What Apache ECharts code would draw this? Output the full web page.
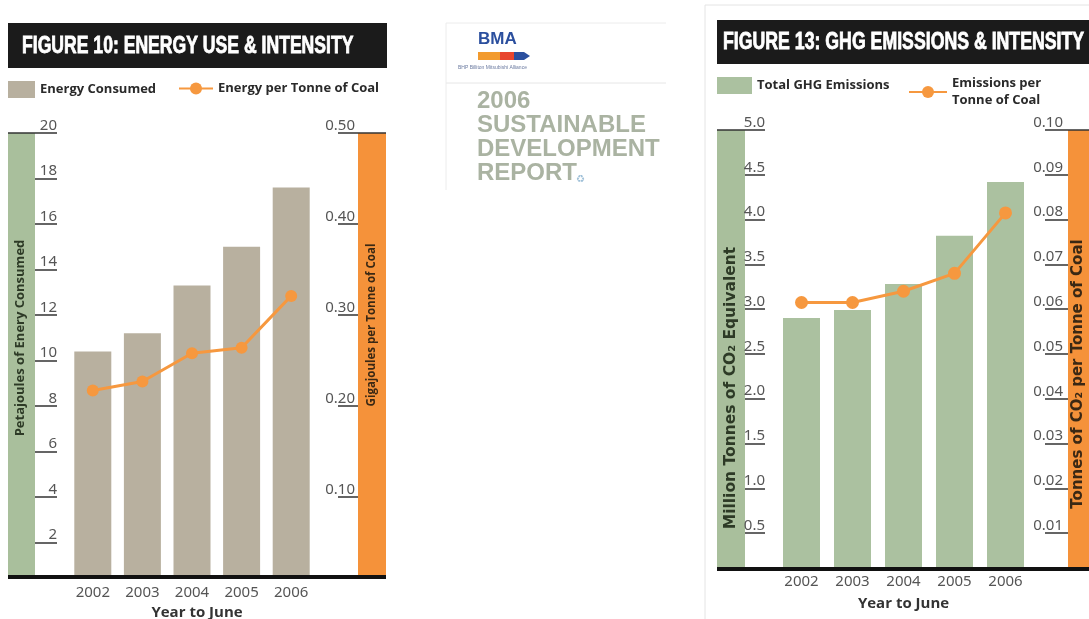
<!DOCTYPE html>
<html>
<head>
<meta charset="utf-8">
<script src="https://cdn.jsdelivr.net/npm/echarts@6/dist/echarts.min.js"></script>
<style>
html,body{margin:0;padding:0;background:#fff;}
#c{width:1089px;height:619px;}
</style>
</head>
<body>
<div id="c"></div>
<script>
// ---- data ----
const years = ['2002', '2003', '2004', '2005', '2006'];
const energyConsumed = [10.4, 11.2, 13.3, 15.0, 17.6];          // Petajoules
const energyPerTonne = [0.217, 0.227, 0.258, 0.264, 0.321];     // GJ per tonne of coal
const ghgEmissions = [2.9, 2.99, 3.28, 3.82, 4.42];            // Mt CO2-e
const ghgPerTonne = [0.0615, 0.0615, 0.064, 0.068, 0.0815];    // t CO2 per tonne of coal
const energyTicks = [2, 4, 6, 8, 10, 12, 14, 16, 18, 20];
const energyIntensityTicks = [0.1, 0.2, 0.3, 0.4, 0.5];
const ghgTicks = [0.5, 1.0, 1.5, 2.0, 2.5, 3.0, 3.5, 4.0, 4.5, 5.0];
const ghgIntensityTicks = [0.01, 0.02, 0.03, 0.04, 0.05, 0.06, 0.07, 0.08, 0.09, 0.10];

const chart = echarts.init(document.getElementById('c'), null, {renderer: 'canvas'});

const GREEN = '#a9bf9c', ORANGE = '#f5923a', GREY_BAR = '#b8b09f', GREEN_BAR = '#abc1a0', LINE = '#f6983f';
const tickFont = {color: '#555', fontFamily: 'Noto Sans', fontSize: 15};
const legendText = {color: '#2a2a2a', fontFamily: 'Open Sans', fontWeight: 'bold', fontSize: 13};

function yAx(o) {
  return Object.assign({
    type: 'value', z: 10,
    axisLine: {show: false},
    splitLine: {show: false},
    nameLocation: 'middle', nameRotate: 90
  }, o);
}

const option = {
  animation: false,
  grid: [
    {left: 68, top: 133, width: 248, height: 442, outerBoundsMode: 'none', containLabel: false},
    {left: 776, top: 130, width: 255, height: 438, outerBoundsMode: 'none', containLabel: false}
  ],
  xAxis: [
    {type: 'category', gridIndex: 0, data: years, z: 10,
     axisLine: {show: false}, axisTick: {show: false},
     axisLabel: Object.assign({margin: 10}, tickFont),
     name: 'Year to June', nameLocation: 'middle', nameGap: 28,
     nameTextStyle: {color: '#333', fontFamily: 'Open Sans', fontWeight: 'bold', fontSize: 15, padding: [0, 0, 0, 10]}},
    {type: 'category', gridIndex: 1, data: years, z: 10,
     axisLine: {show: false}, axisTick: {show: false},
     axisLabel: Object.assign({margin: 6}, tickFont),
     name: 'Year to June', nameLocation: 'middle', nameGap: 28,
     nameTextStyle: {color: '#333', fontFamily: 'Open Sans', fontWeight: 'bold', fontSize: 15}}
  ],
  yAxis: [
    yAx({gridIndex: 0, position: 'left', offset: 33, min: 0.57, max: 20,
      axisTick: {show: true, inside: true, length: 22, customValues: energyTicks, lineStyle: {color: '#333', width: 1.5}},
      axisLabel: Object.assign({inside: true, margin: 22, align: 'right', verticalAlign: 'bottom', customValues: energyTicks,
        formatter: v => String(Math.round(v))}, tickFont),
      name: 'Petajoules of Enery Consumed', nameGap: 8,
      nameTextStyle: {color: '#2d3a26', fontFamily: 'Open Sans', fontWeight: 'bold', fontSize: 13, padding: [0, 0, 0, 32]}}),
    yAx({gridIndex: 0, position: 'right', offset: 42, min: 0.0143, max: 0.5,
      axisTick: {show: true, inside: true, length: 20, customValues: energyIntensityTicks, lineStyle: {color: '#333', width: 1.5}},
      axisLabel: Object.assign({inside: true, margin: 3, align: 'right', verticalAlign: 'bottom', customValues: energyIntensityTicks,
        formatter: v => v.toFixed(2)}, tickFont),
      name: 'Gigajoules per Tonne of Coal', nameGap: 8,
      nameTextStyle: {color: '#3a2814', fontFamily: 'Open Sans', fontWeight: 'bold', fontSize: 11.5, padding: [0, 0, 0, 58]}}),
    yAx({gridIndex: 1, position: 'left', offset: 31, min: 0.11, max: 5,
      axisTick: {show: true, inside: true, length: 20, customValues: ghgTicks, lineStyle: {color: '#333', width: 1.5}},
      axisLabel: Object.assign({inside: true, margin: 20, align: 'right', verticalAlign: 'bottom', customValues: ghgTicks,
        formatter: v => v.toFixed(1)}, tickFont),
      name: 'Million Tonnes of CO\u2082 Equivalent', nameGap: 6,
      nameTextStyle: {color: '#2d3a26', fontFamily: 'DejaVu Sans', fontWeight: 'bold', fontSize: 15.5, padding: [0, 78, 0, 0]}}),
    yAx({gridIndex: 1, position: 'right', offset: 37, min: 0.00223, max: 0.1,
      axisTick: {show: true, inside: true, length: 23, customValues: ghgIntensityTicks, lineStyle: {color: '#333', width: 1.5}},
      axisLabel: Object.assign({inside: true, margin: 5, align: 'right', verticalAlign: 'bottom', customValues: ghgIntensityTicks,
        formatter: v => v.toFixed(2)}, tickFont),
      name: 'Tonnes of CO\u2082 per Tonne of Coal', nameGap: 3,
      nameTextStyle: {color: '#3a2814', fontFamily: 'DejaVu Sans', fontWeight: 'bold', fontSize: 15, padding: [0, 50, 0, 0]}})
  ],
  legend: [
    {data: ['Energy Consumed'], left: 8, top: 81, padding: 0, icon: 'rect', itemWidth: 27, itemHeight: 17, textStyle: legendText, selectedMode: false},
    {data: ['Energy per Tonne of Coal'], left: 178, top: 82, padding: 0, itemWidth: 34, itemHeight: 15, textStyle: legendText, selectedMode: false},
    {data: ['Total GHG Emissions'], left: 717, top: 77, padding: 0, icon: 'rect', itemWidth: 35, itemHeight: 17, textStyle: legendText, selectedMode: false},
    {data: ['Emissions per Tonne of Coal'], left: 908, top: 75, padding: 0, itemWidth: 38, itemHeight: 15, selectedMode: false,
     textStyle: Object.assign({lineHeight: 17}, legendText), formatter: () => 'Emissions per\nTonne of Coal'}
  ],
  series: [
    {name: 'Energy Consumed', type: 'bar', xAxisIndex: 0, yAxisIndex: 0, data: energyConsumed,
     barWidth: 37, itemStyle: {color: GREY_BAR}},
    {name: 'Energy per Tonne of Coal', type: 'line', xAxisIndex: 0, yAxisIndex: 1, data: energyPerTonne,
     symbol: 'circle', symbolSize: 12, lineStyle: {color: LINE, width: 3}, itemStyle: {color: LINE}, z: 5},
    {name: 'Total GHG Emissions', type: 'bar', xAxisIndex: 1, yAxisIndex: 2, data: ghgEmissions,
     barWidth: 37, itemStyle: {color: GREEN_BAR}},
    {name: 'Emissions per Tonne of Coal', type: 'line', xAxisIndex: 1, yAxisIndex: 3, data: ghgPerTonne,
     symbol: 'circle', symbolSize: 13, lineStyle: {color: LINE, width: 3}, itemStyle: {color: LINE}, z: 5}
  ],
  graphic: {elements: [
    // ---- figure 10 ----
    {type: 'rect', shape: {x: 8, y: 23, width: 379, height: 45}, style: {fill: '#1b1b1b'}},
    {type: 'text', x: 22, y: 47, scaleX: 0.765, style: {text: 'FIGURE 10: ENERGY USE & INTENSITY', fill: '#fff',
      stroke: '#fff', lineWidth: 0.8, font: 'bold 23px "Liberation Sans"', align: 'left', verticalAlign: 'middle'}},
    {type: 'rect', shape: {x: 8, y: 133, width: 27, height: 442}, style: {fill: GREEN}},
    {type: 'rect', shape: {x: 358, y: 133, width: 28, height: 442}, style: {fill: ORANGE}},
    {type: 'line', shape: {x1: 8, y1: 133, x2: 35, y2: 133}, style: {stroke: '#333', lineWidth: 1.5}},
    {type: 'line', shape: {x1: 358, y1: 133, x2: 386, y2: 133}, style: {stroke: '#333', lineWidth: 1.5}},
    {type: 'rect', z: 50, shape: {x: 8, y: 575, width: 378, height: 4}, style: {fill: '#111'}},
    // ---- middle report badge ----
    {type: 'line', shape: {x1: 446, y1: 23, x2: 666, y2: 23}, style: {stroke: '#ececec', lineWidth: 1}},
    {type: 'line', shape: {x1: 446, y1: 83, x2: 666, y2: 83}, style: {stroke: '#e6e6e6', lineWidth: 1}},
    {type: 'line', shape: {x1: 446, y1: 23, x2: 446, y2: 190}, style: {stroke: '#ececec', lineWidth: 1}},
    {type: 'text', x: 478, y: 48, style: {text: 'BMA', fill: '#2b4f9e', font: 'bold 17px "Liberation Sans"', align: 'left', verticalAlign: 'bottom'}},
    {type: 'rect', shape: {x: 478, y: 52, width: 22, height: 8}, style: {fill: '#f29a2e'}},
    {type: 'rect', shape: {x: 500, y: 52, width: 14, height: 8}, style: {fill: '#e8452e'}},
    {type: 'polygon', shape: {points: [[514, 52], [524, 52], [530, 56], [524, 60], [514, 60]]}, style: {fill: '#2b4f9e'}},
    {type: 'text', x: 458, y: 68, style: {text: 'BHP Billiton Mitsubishi Alliance', fill: '#6b7aa0', font: '5px "Liberation Sans"', align: 'left', verticalAlign: 'middle'}},
    {type: 'text', x: 477, y: 89, style: {text: '2006\nSUSTAINABLE\nDEVELOPMENT\nREPORT', fill: '#aab3a2',
      font: 'bold 24px "Liberation Sans"', lineHeight: 24, align: 'left', verticalAlign: 'top'}},
    {type: 'text', x: 576, y: 179, style: {text: '\u267B', fill: '#9fc0d8', font: '10px "DejaVu Sans"', align: 'left', verticalAlign: 'middle'}},
    // ---- figure 13 ----
    {type: 'line', shape: {x1: 705, y1: 5, x2: 1089, y2: 5}, style: {stroke: '#e4e4e4', lineWidth: 1}},
    {type: 'line', shape: {x1: 705, y1: 5, x2: 705, y2: 619}, style: {stroke: '#e4e4e4', lineWidth: 1}},
    {type: 'rect', shape: {x: 717, y: 20, width: 372, height: 44}, style: {fill: '#1b1b1b'}},
    {type: 'text', x: 723, y: 43, scaleX: 0.77, style: {text: 'FIGURE 13: GHG EMISSIONS & INTENSITY', fill: '#fff',
      stroke: '#fff', lineWidth: 0.8, font: 'bold 23px "Liberation Sans"', align: 'left', verticalAlign: 'middle'}},
    {type: 'rect', shape: {x: 717, y: 130, width: 28, height: 438}, style: {fill: GREEN}},
    {type: 'rect', shape: {x: 1068, y: 130, width: 21, height: 438}, style: {fill: ORANGE}},
    {type: 'line', shape: {x1: 717, y1: 130, x2: 745, y2: 130}, style: {stroke: '#333', lineWidth: 1.5}},
    {type: 'line', shape: {x1: 1068, y1: 130, x2: 1089, y2: 130}, style: {stroke: '#333', lineWidth: 1.5}},
    {type: 'rect', z: 50, shape: {x: 717, y: 567, width: 372, height: 4}, style: {fill: '#111'}}
  ]}
};
chart.setOption(option);
</script>
</body>
</html>
